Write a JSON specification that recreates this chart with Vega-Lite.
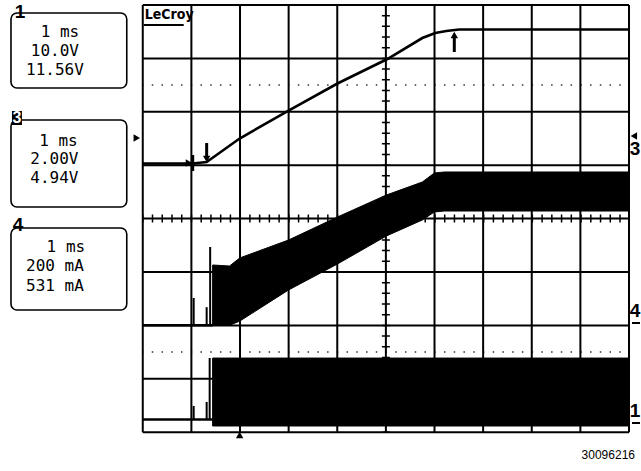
{
  "$schema": "https://vega.github.io/schema/vega-lite/v6.json",
  "width": 641,
  "height": 471,
  "autosize": {"type": "fit", "contains": "padding"},
  "padding": 0,
  "background": "white",
  "config": {"view": {"stroke": null}},
  "datasets": {
    "gridV": [{"t": 0}, {"t": 1}, {"t": 2}, {"t": 3}, {"t": 4}, {"t": 5}, {"t": 6}, {"t": 7}, {"t": 8}, {"t": 9}, {"t": 10}],
    "gridH": [{"v": -4}, {"v": -3}, {"v": -2}, {"v": -1}, {"v": 0}, {"v": 1}, {"v": 2}, {"v": 3}, {"v": 4}],
    "dotted": [{"v": 2.5}, {"v": -2.5}],
    "lines": [
      {"trace": "ramp", "t": 0, "v": 1.032},
      {"trace": "ramp", "t": 1.027, "v": 1.032},
      {"trace": "ramp", "t": 1.314, "v": 1.06},
      {"trace": "ramp", "t": 1.992, "v": 1.5},
      {"trace": "ramp", "t": 2.998, "v": 2.02},
      {"trace": "ramp", "t": 4.004, "v": 2.53},
      {"trace": "ramp", "t": 5.031, "v": 2.989},
      {"trace": "ramp", "t": 5.749, "v": 3.382},
      {"trace": "ramp", "t": 6.016, "v": 3.476},
      {"trace": "ramp", "t": 6.242, "v": 3.513},
      {"trace": "ramp", "t": 6.509, "v": 3.541},
      {"trace": "ramp", "t": 10, "v": 3.541},
      {"trace": "mid", "t": 0, "v": -1.996},
      {"trace": "mid", "t": 1.437, "v": -1.996},
      {"trace": "bot", "t": 0, "v": -3.762},
      {"trace": "bot", "t": 1.437, "v": -3.762}
    ],
    "bands": [
      {"trace": "mid", "t": 1.437, "v": -0.869, "v2": -1.996},
      {"trace": "mid", "t": 1.786, "v": -0.888, "v2": -1.996},
      {"trace": "mid", "t": 1.992, "v": -0.738, "v2": -1.921},
      {"trace": "mid", "t": 2.998, "v": -0.401, "v2": -1.337},
      {"trace": "mid", "t": 4.004, "v": 0.03, "v2": -0.85},
      {"trace": "mid", "t": 5.01, "v": 0.442, "v2": -0.326},
      {"trace": "mid", "t": 5.749, "v": 0.685, "v2": -0.026},
      {"trace": "mid", "t": 5.996, "v": 0.854, "v2": 0.124},
      {"trace": "mid", "t": 6.201, "v": 0.873, "v2": 0.142},
      {"trace": "mid", "t": 10, "v": 0.873, "v2": 0.142},
      {"trace": "bot", "t": 1.437, "v": -2.612, "v2": -3.884},
      {"trace": "bot", "t": 10, "v": -2.612, "v2": -3.884}
    ],
    "spikes": [
      {"t": 1.047, "v": -1.996, "v2": -1.487},
      {"t": 1.314, "v": -1.996, "v2": -1.659},
      {"t": 1.386, "v": -1.996, "v2": -0.532},
      {"t": 1.047, "v": -3.762, "v2": -3.509},
      {"t": 1.314, "v": -3.762, "v2": -3.434},
      {"t": 1.376, "v": -3.762, "v2": -2.61}
    ],
    "arrows": [
      {"t": 1.314, "v": 1.416, "v2": 1.12},
      {"t": 1.027, "v": 1.191, "v2": 0.891},
      {"t": 6.407, "v": 3.12, "v2": 3.44}
    ],
    "markers": [
      {"t": 1.314, "v": 1.116, "m": "down"},
      {"t": 0.95, "v": 1.041, "m": "right"},
      {"t": 6.407, "v": 3.438, "m": "up"},
      {"t": -0.123, "v": 1.509, "m": "right"},
      {"t": 10.1, "v": 1.547, "m": "left"},
      {"t": 1.992, "v": -4.052, "m": "up"}
    ],
    "boxes": [
      {"t": -2.71, "t2": -0.329, "v": 3.851, "v2": 2.446},
      {"t": -2.71, "t2": -0.329, "v": 1.846, "v2": 0.217},
      {"t": -2.71, "t2": -0.329, "v": -0.176, "v2": -1.711}
    ],
    "chip": [{"t": -2.69, "t2": -2.485, "v": 2.015, "v2": 1.753}],
    "boxText": [
      {"t": -1.704, "v": 3.494, "label": "1 ms"},
      {"t": -1.807, "v": 3.139, "label": "10.0V"},
      {"t": -1.807, "v": 2.783, "label": "11.56V"},
      {"t": -1.735, "v": 1.453, "label": "1 ms"},
      {"t": -1.817, "v": 1.116, "label": "2.00V"},
      {"t": -1.817, "v": 0.76, "label": "4.94V"},
      {"t": -1.581, "v": -0.532, "label": "1 ms"},
      {"t": -1.807, "v": -0.888, "label": "200 mA"},
      {"t": -1.807, "v": -1.262, "label": "531 mA"}
    ],
    "chLabels": [
      {"t": -2.526, "v": 3.869, "label": "1"},
      {"t": -2.567, "v": -0.12, "label": "4"},
      {"t": 10.123, "v": 1.303, "label": "3"},
      {"t": 10.123, "v": -1.73, "label": "4"},
      {"t": 10.123, "v": -3.603, "label": "1"}
    ],
    "chipLabel": [{"t": -2.587, "v": 1.884, "label": "3"}],
    "underlines": [
      {"t": 10.062, "t2": 10.226, "v": -1.955},
      {"t": 10.062, "t2": 10.226, "v": -3.828},
      {"t": 0.02, "t2": 0.842, "v": 3.625}
    ],
    "logo": [{"t": 0.041, "v": 3.82, "label": "LeCroy"}],
    "footer": [{"t": 10.123, "v": -4.427, "label": "30096216"}]
  },
  "layer": [
    {
      "data": {"name": "dotted"},
      "mark": {"type": "rule", "color": "#333", "strokeWidth": 1.5, "strokeDash": [1.5, 8.24], "strokeDashOffset": 0.75, "strokeCap": "butt"},
      "encoding": {
        "x": {"datum": 0, "type": "quantitative", "scale": {"domain": [-2.936, 10.226], "nice": false, "zero": false}, "axis": null},
        "x2": {"datum": 10},
        "y": {"field": "v", "type": "quantitative", "scale": {"domain": [-4.727, 4.094], "nice": false, "zero": false}, "axis": null}
      }
    },
    {
      "data": {"name": "gridV"},
      "mark": {"type": "rule", "color": "#000", "strokeWidth": 2},
      "encoding": {
        "x": {"field": "t", "type": "quantitative", "scale": {"domain": [-2.936, 10.226], "nice": false, "zero": false}, "axis": null},
        "y": {"datum": -4, "type": "quantitative", "scale": {"domain": [-4.727, 4.094], "nice": false, "zero": false}, "axis": null},
        "y2": {"datum": 4}
      }
    },
    {
      "data": {"name": "gridH"},
      "mark": {"type": "rule", "color": "#000", "strokeWidth": 2},
      "encoding": {
        "x": {"datum": 0, "type": "quantitative", "scale": {"domain": [-2.936, 10.226], "nice": false, "zero": false}, "axis": null},
        "x2": {"datum": 10},
        "y": {"field": "v", "type": "quantitative", "scale": {"domain": [-4.727, 4.094], "nice": false, "zero": false}, "axis": null}
      }
    },
    {
      "data": {"values": [{"v": 0}]},
      "mark": {"type": "rule", "color": "#000", "strokeWidth": 8, "strokeDash": [1.5, 8.24], "strokeDashOffset": 0.75, "strokeCap": "butt"},
      "encoding": {
        "x": {"datum": 0, "type": "quantitative", "scale": {"domain": [-2.936, 10.226], "nice": false, "zero": false}, "axis": null},
        "x2": {"datum": 10},
        "y": {"field": "v", "type": "quantitative", "scale": {"domain": [-4.727, 4.094], "nice": false, "zero": false}, "axis": null}
      }
    },
    {
      "data": {"values": [{"t": 5}]},
      "mark": {"type": "rule", "color": "#000", "strokeWidth": 8, "strokeDash": [1.5, 9.18], "strokeDashOffset": 0.75, "strokeCap": "butt"},
      "encoding": {
        "x": {"field": "t", "type": "quantitative", "scale": {"domain": [-2.936, 10.226], "nice": false, "zero": false}, "axis": null},
        "y": {"datum": -4, "type": "quantitative", "scale": {"domain": [-4.727, 4.094], "nice": false, "zero": false}, "axis": null},
        "y2": {"datum": 4}
      }
    },
    {
      "data": {"name": "bands"},
      "mark": {"type": "area", "color": "black", "interpolate": "linear", "stroke": "black", "strokeWidth": 1},
      "encoding": {
        "x": {"field": "t", "type": "quantitative", "scale": {"domain": [-2.936, 10.226], "nice": false, "zero": false}, "axis": null},
        "y": {"field": "v", "type": "quantitative", "scale": {"domain": [-4.727, 4.094], "nice": false, "zero": false}, "axis": null},
        "y2": {"field": "v2"},
        "detail": {"field": "trace"}
      }
    },
    {
      "data": {"name": "lines"},
      "mark": {"type": "line", "color": "black", "strokeWidth": 2.6},
      "encoding": {
        "x": {"field": "t", "type": "quantitative", "scale": {"domain": [-2.936, 10.226], "nice": false, "zero": false}, "axis": null},
        "y": {"field": "v", "type": "quantitative", "scale": {"domain": [-4.727, 4.094], "nice": false, "zero": false}, "axis": null},
        "detail": {"field": "trace"}
      }
    },
    {
      "data": {"name": "spikes"},
      "mark": {"type": "rule", "color": "black", "strokeWidth": 2},
      "encoding": {
        "x": {"field": "t", "type": "quantitative", "scale": {"domain": [-2.936, 10.226], "nice": false, "zero": false}, "axis": null},
        "y": {"field": "v", "type": "quantitative", "scale": {"domain": [-4.727, 4.094], "nice": false, "zero": false}, "axis": null},
        "y2": {"field": "v2"}
      }
    },
    {
      "data": {"name": "arrows"},
      "mark": {"type": "rule", "color": "black", "strokeWidth": 3},
      "encoding": {
        "x": {"field": "t", "type": "quantitative", "scale": {"domain": [-2.936, 10.226], "nice": false, "zero": false}, "axis": null},
        "y": {"field": "v", "type": "quantitative", "scale": {"domain": [-4.727, 4.094], "nice": false, "zero": false}, "axis": null},
        "y2": {"field": "v2"}
      }
    },
    {
      "data": {"name": "markers"},
      "mark": {"type": "point", "filled": true, "color": "black", "size": 55, "opacity": 1},
      "encoding": {
        "x": {"field": "t", "type": "quantitative", "scale": {"domain": [-2.936, 10.226], "nice": false, "zero": false}, "axis": null},
        "y": {"field": "v", "type": "quantitative", "scale": {"domain": [-4.727, 4.094], "nice": false, "zero": false}, "axis": null},
        "shape": {"field": "m", "type": "nominal", "scale": {"domain": ["down", "up", "right", "left"], "range": ["triangle-down", "triangle-up", "triangle-right", "triangle-left"]}, "legend": null}
      }
    },
    {
      "data": {"name": "boxes"},
      "mark": {"type": "rect", "fill": "white", "stroke": "black", "strokeWidth": 1.6, "cornerRadius": 6},
      "encoding": {
        "x": {"field": "t", "type": "quantitative", "scale": {"domain": [-2.936, 10.226], "nice": false, "zero": false}, "axis": null},
        "x2": {"field": "t2"},
        "y": {"field": "v", "type": "quantitative", "scale": {"domain": [-4.727, 4.094], "nice": false, "zero": false}, "axis": null},
        "y2": {"field": "v2"}
      }
    },
    {
      "data": {"name": "chip"},
      "mark": {"type": "rect", "fill": "black"},
      "encoding": {
        "x": {"field": "t", "type": "quantitative", "scale": {"domain": [-2.936, 10.226], "nice": false, "zero": false}, "axis": null},
        "x2": {"field": "t2"},
        "y": {"field": "v", "type": "quantitative", "scale": {"domain": [-4.727, 4.094], "nice": false, "zero": false}, "axis": null},
        "y2": {"field": "v2"}
      }
    },
    {
      "data": {"name": "boxText"},
      "mark": {"type": "text", "font": "DejaVu Sans Mono", "fontSize": 16, "color": "black", "align": "center", "baseline": "middle"},
      "encoding": {
        "x": {"field": "t", "type": "quantitative", "scale": {"domain": [-2.936, 10.226], "nice": false, "zero": false}, "axis": null},
        "y": {"field": "v", "type": "quantitative", "scale": {"domain": [-4.727, 4.094], "nice": false, "zero": false}, "axis": null},
        "text": {"field": "label"}
      }
    },
    {
      "data": {"name": "chLabels"},
      "mark": {"type": "text", "font": "Liberation Sans", "fontSize": 19, "fontWeight": "bold", "color": "black", "align": "center", "baseline": "middle"},
      "encoding": {
        "x": {"field": "t", "type": "quantitative", "scale": {"domain": [-2.936, 10.226], "nice": false, "zero": false}, "axis": null},
        "y": {"field": "v", "type": "quantitative", "scale": {"domain": [-4.727, 4.094], "nice": false, "zero": false}, "axis": null},
        "text": {"field": "label"}
      }
    },
    {
      "data": {"name": "chipLabel"},
      "mark": {"type": "text", "font": "Liberation Sans", "fontSize": 16, "fontWeight": "bold", "color": "white", "align": "center", "baseline": "middle"},
      "encoding": {
        "x": {"field": "t", "type": "quantitative", "scale": {"domain": [-2.936, 10.226], "nice": false, "zero": false}, "axis": null},
        "y": {"field": "v", "type": "quantitative", "scale": {"domain": [-4.727, 4.094], "nice": false, "zero": false}, "axis": null},
        "text": {"field": "label"}
      }
    },
    {
      "data": {"name": "underlines"},
      "mark": {"type": "rule", "color": "black", "strokeWidth": 2},
      "encoding": {
        "x": {"field": "t", "type": "quantitative", "scale": {"domain": [-2.936, 10.226], "nice": false, "zero": false}, "axis": null},
        "x2": {"field": "t2"},
        "y": {"field": "v", "type": "quantitative", "scale": {"domain": [-4.727, 4.094], "nice": false, "zero": false}, "axis": null}
      }
    },
    {
      "data": {"name": "logo"},
      "mark": {"type": "text", "font": "DejaVu Sans Condensed", "fontSize": 14, "fontWeight": "bold", "color": "black", "align": "left", "baseline": "middle"},
      "encoding": {
        "x": {"field": "t", "type": "quantitative", "scale": {"domain": [-2.936, 10.226], "nice": false, "zero": false}, "axis": null},
        "y": {"field": "v", "type": "quantitative", "scale": {"domain": [-4.727, 4.094], "nice": false, "zero": false}, "axis": null},
        "text": {"field": "label"}
      }
    },
    {
      "data": {"name": "footer"},
      "mark": {"type": "text", "font": "Liberation Sans", "fontSize": 12, "color": "black", "align": "right", "baseline": "middle"},
      "encoding": {
        "x": {"field": "t", "type": "quantitative", "scale": {"domain": [-2.936, 10.226], "nice": false, "zero": false}, "axis": null},
        "y": {"field": "v", "type": "quantitative", "scale": {"domain": [-4.727, 4.094], "nice": false, "zero": false}, "axis": null},
        "text": {"field": "label"}
      }
    }
  ]
}
